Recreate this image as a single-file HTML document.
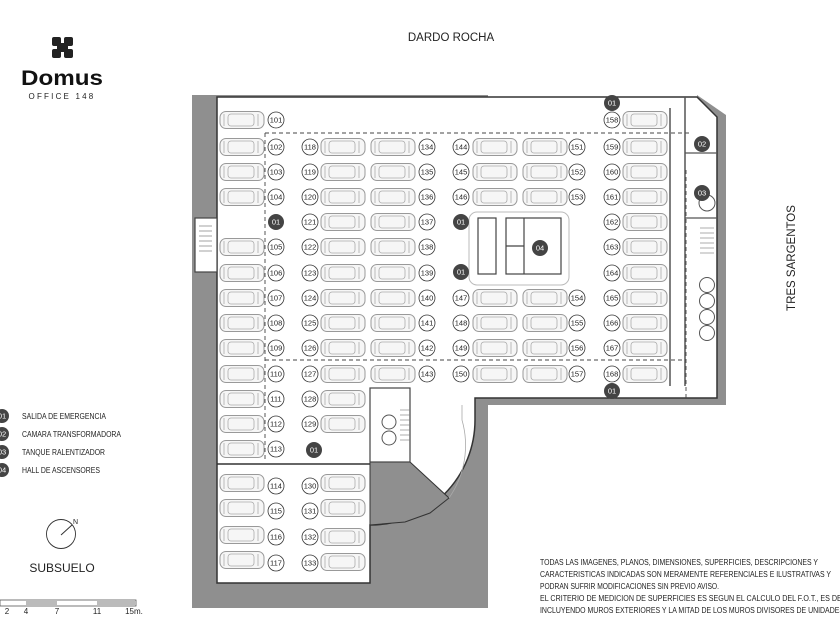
<!DOCTYPE html>
<html><head><meta charset="utf-8"><style>
body{margin:0;background:#fff;width:840px;height:630px;overflow:hidden}
svg{display:block}
text{font-family:"Liberation Sans",sans-serif}
.l circle{fill:#fff;stroke:#333;stroke-width:0.8}
.l text{font-size:7.5px;fill:#222;text-anchor:middle}
.d circle{fill:#444}
.d text{font-size:7.5px;fill:#fff;text-anchor:middle}
</style></head><body>
<svg width="840" height="630" viewBox="0 0 840 630">
<defs>
<g id="car">
<rect x="-22" y="-8.5" width="44" height="17" rx="6" fill="#f6f6f6" stroke="#999" stroke-width="1"/>
<rect x="-14" y="-6" width="26" height="12" rx="3" fill="none" stroke="#aaa" stroke-width="0.8"/>
<line x1="-18" y1="-6" x2="-18" y2="6" stroke="#aaa" stroke-width="0.8"/>
<line x1="16" y1="-6" x2="16" y2="6" stroke="#aaa" stroke-width="0.8"/>
</g>
</defs>
<rect x="192" y="95" width="296" height="513" fill="#8f8f8f"/>
<rect x="716" y="115" width="10" height="290" fill="#8f8f8f"/>
<rect x="488" y="398" width="238" height="7" fill="#8f8f8f"/>
<polygon points="697,95 726,115 716,118 697,97" fill="#8f8f8f"/>
<path d="M217,97 L697,97 L717,117 L717,398 L475,398 L475,420 A105,105 0 0 1 370,525 L370,583 L217,583 Z" fill="#fff" stroke="#333" stroke-width="1.5"/>
<polygon points="370,462 410,462 449,498 430,513 405,522 370,525" fill="#8f8f8f" stroke="#333" stroke-width="1"/>
<path d="M462,405 L462,420 A92,92 0 0 1 449,498" fill="none" stroke="#aaa" stroke-width="0.8"/>
<line x1="217" y1="464" x2="370" y2="464" stroke="#333" stroke-width="1.5"/>
<rect x="370" y="388" width="40" height="74" fill="#fff" stroke="#444" stroke-width="1.2"/>
<circle cx="389" cy="422" r="7" fill="none" stroke="#555"/><circle cx="389" cy="438" r="7" fill="none" stroke="#555"/>
<g stroke="#777" stroke-width="0.6"><line x1="400" y1="410" x2="410" y2="410"/><line x1="400" y1="415" x2="410" y2="415"/><line x1="400" y1="420" x2="410" y2="420"/><line x1="400" y1="425" x2="410" y2="425"/><line x1="400" y1="430" x2="410" y2="430"/><line x1="400" y1="435" x2="410" y2="435"/><line x1="400" y1="440" x2="410" y2="440"/></g>
<rect x="195" y="218" width="22" height="54" fill="#fff" stroke="#444" stroke-width="1.2"/>
<g stroke="#666" stroke-width="0.6"><line x1="199" y1="226" x2="212" y2="226"/><line x1="199" y1="231" x2="212" y2="231"/><line x1="199" y1="236" x2="212" y2="236"/><line x1="199" y1="241" x2="212" y2="241"/><line x1="199" y1="246" x2="212" y2="246"/><line x1="199" y1="251" x2="212" y2="251"/></g>
<g stroke="#444" stroke-width="0.9" stroke-dasharray="4,3" fill="none">
<line x1="265" y1="133" x2="690" y2="133"/>
<line x1="265" y1="133" x2="265" y2="460"/>
<line x1="265" y1="360" x2="686" y2="360"/>
<line x1="686" y1="170" x2="686" y2="400"/>
</g>
<line x1="670" y1="108" x2="670" y2="386" stroke="#555" stroke-width="1.5"/>
<line x1="685" y1="97" x2="685" y2="386" stroke="#555" stroke-width="1.5"/>
<line x1="685" y1="153" x2="717" y2="153" stroke="#555" stroke-width="1.2"/>
<line x1="685" y1="218" x2="717" y2="218" stroke="#555" stroke-width="1.2"/>
<circle cx="707" cy="203" r="8" fill="none" stroke="#555"/>
<g fill="none" stroke="#555"><circle cx="707" cy="285" r="7.5"/><circle cx="707" cy="301" r="7.5"/><circle cx="707" cy="317" r="7.5"/><circle cx="707" cy="333" r="7.5"/></g>
<g stroke="#777" stroke-width="0.6"><line x1="700" y1="228" x2="714" y2="228"/><line x1="700" y1="233" x2="714" y2="233"/><line x1="700" y1="238" x2="714" y2="238"/><line x1="700" y1="243" x2="714" y2="243"/><line x1="700" y1="248" x2="714" y2="248"/><line x1="700" y1="253" x2="714" y2="253"/></g>
<rect x="469" y="212" width="100" height="73" rx="8" fill="#fff" stroke="#bbb" stroke-width="1"/>
<g fill="none" stroke="#444" stroke-width="1.2">
<rect x="478" y="218" width="18" height="56"/><rect x="506" y="218" width="55" height="56"/>
<line x1="524" y1="218" x2="524" y2="274"/><line x1="506" y1="246" x2="524" y2="246"/>
</g>
<g>
<use href="#car" x="242" y="120"/><use href="#car" x="242" y="147"/><use href="#car" x="242" y="172"/><use href="#car" x="242" y="197"/>
<use href="#car" x="242" y="247"/><use href="#car" x="242" y="273"/><use href="#car" x="242" y="298"/><use href="#car" x="242" y="323"/><use href="#car" x="242" y="348"/><use href="#car" x="242" y="374"/><use href="#car" x="242" y="399"/><use href="#car" x="242" y="424"/><use href="#car" x="242" y="449"/><use href="#car" x="242" y="483"/><use href="#car" x="242" y="508"/><use href="#car" x="242" y="535"/><use href="#car" x="242" y="560"/>
<use href="#car" x="343" y="147"/><use href="#car" x="343" y="172"/><use href="#car" x="343" y="197"/><use href="#car" x="343" y="222"/><use href="#car" x="343" y="247"/><use href="#car" x="343" y="273"/><use href="#car" x="343" y="298"/><use href="#car" x="343" y="323"/><use href="#car" x="343" y="348"/><use href="#car" x="343" y="374"/><use href="#car" x="343" y="399"/><use href="#car" x="343" y="424"/><use href="#car" x="343" y="483"/><use href="#car" x="343" y="508"/><use href="#car" x="343" y="537"/><use href="#car" x="343" y="562"/>
<use href="#car" x="393" y="147"/><use href="#car" x="393" y="172"/><use href="#car" x="393" y="197"/><use href="#car" x="393" y="222"/><use href="#car" x="393" y="247"/><use href="#car" x="393" y="273"/><use href="#car" x="393" y="298"/><use href="#car" x="393" y="323"/><use href="#car" x="393" y="348"/><use href="#car" x="393" y="374"/>
<use href="#car" x="495" y="147"/><use href="#car" x="495" y="172"/><use href="#car" x="495" y="197"/><use href="#car" x="495" y="298"/><use href="#car" x="495" y="323"/><use href="#car" x="495" y="348"/><use href="#car" x="495" y="374"/>
<use href="#car" x="545" y="147"/><use href="#car" x="545" y="172"/><use href="#car" x="545" y="197"/><use href="#car" x="545" y="298"/><use href="#car" x="545" y="323"/><use href="#car" x="545" y="348"/><use href="#car" x="545" y="374"/>
<use href="#car" x="645" y="120"/><use href="#car" x="645" y="147"/><use href="#car" x="645" y="172"/><use href="#car" x="645" y="197"/><use href="#car" x="645" y="222"/><use href="#car" x="645" y="247"/><use href="#car" x="645" y="273"/><use href="#car" x="645" y="298"/><use href="#car" x="645" y="323"/><use href="#car" x="645" y="348"/><use href="#car" x="645" y="374"/>
</g>
<g class="l">
<g transform="translate(276,120)"><circle r="8"/><text y="2.7">101</text></g>
<g transform="translate(276,147)"><circle r="8"/><text y="2.7">102</text></g>
<g transform="translate(276,172)"><circle r="8"/><text y="2.7">103</text></g>
<g transform="translate(276,197)"><circle r="8"/><text y="2.7">104</text></g>
<g transform="translate(276,247)"><circle r="8"/><text y="2.7">105</text></g>
<g transform="translate(276,273)"><circle r="8"/><text y="2.7">106</text></g>
<g transform="translate(276,298)"><circle r="8"/><text y="2.7">107</text></g>
<g transform="translate(276,323)"><circle r="8"/><text y="2.7">108</text></g>
<g transform="translate(276,348)"><circle r="8"/><text y="2.7">109</text></g>
<g transform="translate(276,374)"><circle r="8"/><text y="2.7">110</text></g>
<g transform="translate(276,399)"><circle r="8"/><text y="2.7">111</text></g>
<g transform="translate(276,424)"><circle r="8"/><text y="2.7">112</text></g>
<g transform="translate(276,449)"><circle r="8"/><text y="2.7">113</text></g>
<g transform="translate(276,486)"><circle r="8"/><text y="2.7">114</text></g>
<g transform="translate(276,511)"><circle r="8"/><text y="2.7">115</text></g>
<g transform="translate(276,537)"><circle r="8"/><text y="2.7">116</text></g>
<g transform="translate(276,563)"><circle r="8"/><text y="2.7">117</text></g>
<g transform="translate(310,147)"><circle r="8"/><text y="2.7">118</text></g>
<g transform="translate(310,172)"><circle r="8"/><text y="2.7">119</text></g>
<g transform="translate(310,197)"><circle r="8"/><text y="2.7">120</text></g>
<g transform="translate(310,222)"><circle r="8"/><text y="2.7">121</text></g>
<g transform="translate(310,247)"><circle r="8"/><text y="2.7">122</text></g>
<g transform="translate(310,273)"><circle r="8"/><text y="2.7">123</text></g>
<g transform="translate(310,298)"><circle r="8"/><text y="2.7">124</text></g>
<g transform="translate(310,323)"><circle r="8"/><text y="2.7">125</text></g>
<g transform="translate(310,348)"><circle r="8"/><text y="2.7">126</text></g>
<g transform="translate(310,374)"><circle r="8"/><text y="2.7">127</text></g>
<g transform="translate(310,399)"><circle r="8"/><text y="2.7">128</text></g>
<g transform="translate(310,424)"><circle r="8"/><text y="2.7">129</text></g>
<g transform="translate(310,486)"><circle r="8"/><text y="2.7">130</text></g>
<g transform="translate(310,511)"><circle r="8"/><text y="2.7">131</text></g>
<g transform="translate(310,537)"><circle r="8"/><text y="2.7">132</text></g>
<g transform="translate(310,563)"><circle r="8"/><text y="2.7">133</text></g>
<g transform="translate(427,147)"><circle r="8"/><text y="2.7">134</text></g>
<g transform="translate(427,172)"><circle r="8"/><text y="2.7">135</text></g>
<g transform="translate(427,197)"><circle r="8"/><text y="2.7">136</text></g>
<g transform="translate(427,222)"><circle r="8"/><text y="2.7">137</text></g>
<g transform="translate(427,247)"><circle r="8"/><text y="2.7">138</text></g>
<g transform="translate(427,273)"><circle r="8"/><text y="2.7">139</text></g>
<g transform="translate(427,298)"><circle r="8"/><text y="2.7">140</text></g>
<g transform="translate(427,323)"><circle r="8"/><text y="2.7">141</text></g>
<g transform="translate(427,348)"><circle r="8"/><text y="2.7">142</text></g>
<g transform="translate(427,374)"><circle r="8"/><text y="2.7">143</text></g>
<g transform="translate(461,147)"><circle r="8"/><text y="2.7">144</text></g>
<g transform="translate(461,172)"><circle r="8"/><text y="2.7">145</text></g>
<g transform="translate(461,197)"><circle r="8"/><text y="2.7">146</text></g>
<g transform="translate(461,298)"><circle r="8"/><text y="2.7">147</text></g>
<g transform="translate(461,323)"><circle r="8"/><text y="2.7">148</text></g>
<g transform="translate(461,348)"><circle r="8"/><text y="2.7">149</text></g>
<g transform="translate(461,374)"><circle r="8"/><text y="2.7">150</text></g>
<g transform="translate(577,147)"><circle r="8"/><text y="2.7">151</text></g>
<g transform="translate(577,172)"><circle r="8"/><text y="2.7">152</text></g>
<g transform="translate(577,197)"><circle r="8"/><text y="2.7">153</text></g>
<g transform="translate(577,298)"><circle r="8"/><text y="2.7">154</text></g>
<g transform="translate(577,323)"><circle r="8"/><text y="2.7">155</text></g>
<g transform="translate(577,348)"><circle r="8"/><text y="2.7">156</text></g>
<g transform="translate(577,374)"><circle r="8"/><text y="2.7">157</text></g>
<g transform="translate(612,120)"><circle r="8"/><text y="2.7">158</text></g>
<g transform="translate(612,147)"><circle r="8"/><text y="2.7">159</text></g>
<g transform="translate(612,172)"><circle r="8"/><text y="2.7">160</text></g>
<g transform="translate(612,197)"><circle r="8"/><text y="2.7">161</text></g>
<g transform="translate(612,222)"><circle r="8"/><text y="2.7">162</text></g>
<g transform="translate(612,247)"><circle r="8"/><text y="2.7">163</text></g>
<g transform="translate(612,273)"><circle r="8"/><text y="2.7">164</text></g>
<g transform="translate(612,298)"><circle r="8"/><text y="2.7">165</text></g>
<g transform="translate(612,323)"><circle r="8"/><text y="2.7">166</text></g>
<g transform="translate(612,348)"><circle r="8"/><text y="2.7">167</text></g>
<g transform="translate(612,374)"><circle r="8"/><text y="2.7">168</text></g>
</g>
<g class="d">
<g transform="translate(276,222)"><circle r="8"/><text y="2.7">01</text></g>
<g transform="translate(461,222)"><circle r="8"/><text y="2.7">01</text></g>
<g transform="translate(461,272)"><circle r="8"/><text y="2.7">01</text></g>
<g transform="translate(612,103)"><circle r="8"/><text y="2.7">01</text></g>
<g transform="translate(612,391)"><circle r="8"/><text y="2.7">01</text></g>
<g transform="translate(314,450)"><circle r="8"/><text y="2.7">01</text></g>
<g transform="translate(540,248)"><circle r="8"/><text y="2.7">04</text></g>
<g transform="translate(702,144)"><circle r="8"/><text y="2.7">02</text></g>
<g transform="translate(702,193)"><circle r="8"/><text y="2.7">03</text></g>
</g>
<text x="451" y="41" font-size="11.5" text-anchor="middle" fill="#222">DARDO ROCHA</text>
<text transform="translate(795,258) rotate(-90)" font-size="11.5" text-anchor="middle" fill="#222">TRES SARGENTOS</text>
<g fill="#222">
<rect x="52" y="37" width="9" height="9" rx="2"/><rect x="64" y="37" width="9" height="9" rx="2"/>
<rect x="52" y="49" width="9" height="9" rx="2"/><rect x="64" y="49" width="9" height="9" rx="2"/>
<rect x="57" y="43" width="11" height="9" rx="2"/>
</g>
<text x="21" y="85" font-size="21" font-weight="bold" fill="#111" textLength="82" lengthAdjust="spacingAndGlyphs">Domus</text>
<text x="62" y="99" font-size="8" letter-spacing="2.2" text-anchor="middle" fill="#222">OFFICE 148</text>
<g class="d">
<g transform="translate(2,416)"><circle r="7"/><text y="2.7">01</text></g>
<g transform="translate(2,434)"><circle r="7"/><text y="2.7">02</text></g>
<g transform="translate(2,452)"><circle r="7"/><text y="2.7">03</text></g>
<g transform="translate(2,470)"><circle r="7"/><text y="2.7">04</text></g>
</g>
<g font-size="8" fill="#222">
<text x="22" y="419" textLength="84" lengthAdjust="spacingAndGlyphs">SALIDA DE EMERGENCIA</text>
<text x="22" y="437" textLength="99" lengthAdjust="spacingAndGlyphs">CAMARA TRANSFORMADORA</text>
<text x="22" y="455" textLength="83" lengthAdjust="spacingAndGlyphs">TANQUE RALENTIZADOR</text>
<text x="22" y="473" textLength="78" lengthAdjust="spacingAndGlyphs">HALL DE ASCENSORES</text>
</g>
<circle cx="61" cy="534" r="14.5" fill="none" stroke="#333" stroke-width="0.9"/>
<line x1="61" y1="535" x2="72" y2="525" stroke="#333" stroke-width="1"/>
<text x="73" y="524" font-size="7" fill="#222">N</text>
<text x="62" y="572" font-size="12" text-anchor="middle" fill="#222">SUBSUELO</text>
<rect x="0" y="600" width="136" height="6" fill="#fff" stroke="#555" stroke-width="0.8"/>
<rect x="26" y="600" width="31" height="6" fill="#bbb"/><rect x="97" y="600" width="38" height="6" fill="#bbb"/>
<g font-size="8" fill="#222" text-anchor="middle"><text x="7" y="614">2</text><text x="26" y="614">4</text><text x="57" y="614">7</text><text x="97" y="614">11</text><text x="134" y="614">15m.</text></g>
<g font-size="8" fill="#222" lengthAdjust="spacingAndGlyphs">
<text x="540" y="565" textLength="278" lengthAdjust="spacingAndGlyphs">TODAS LAS IMAGENES, PLANOS, DIMENSIONES, SUPERFICIES, DESCRIPCIONES Y</text>
<text x="540" y="577" textLength="291" lengthAdjust="spacingAndGlyphs">CARACTERISTICAS INDICADAS SON MERAMENTE REFERENCIALES E ILUSTRATIVAS Y</text>
<text x="540" y="589" textLength="179" lengthAdjust="spacingAndGlyphs">PODRAN SUFRIR MODIFICACIONES SIN PREVIO AVISO.</text>
<text x="540" y="601" textLength="314" lengthAdjust="spacingAndGlyphs">EL CRITERIO DE MEDICION DE SUPERFICIES ES SEGUN EL CALCULO DEL F.O.T., ES DECIR</text>
<text x="540" y="613" textLength="304" lengthAdjust="spacingAndGlyphs">INCLUYENDO MUROS EXTERIORES Y LA MITAD DE LOS MUROS DIVISORES DE UNIDADES</text>
</g>
</svg>
</body></html>
